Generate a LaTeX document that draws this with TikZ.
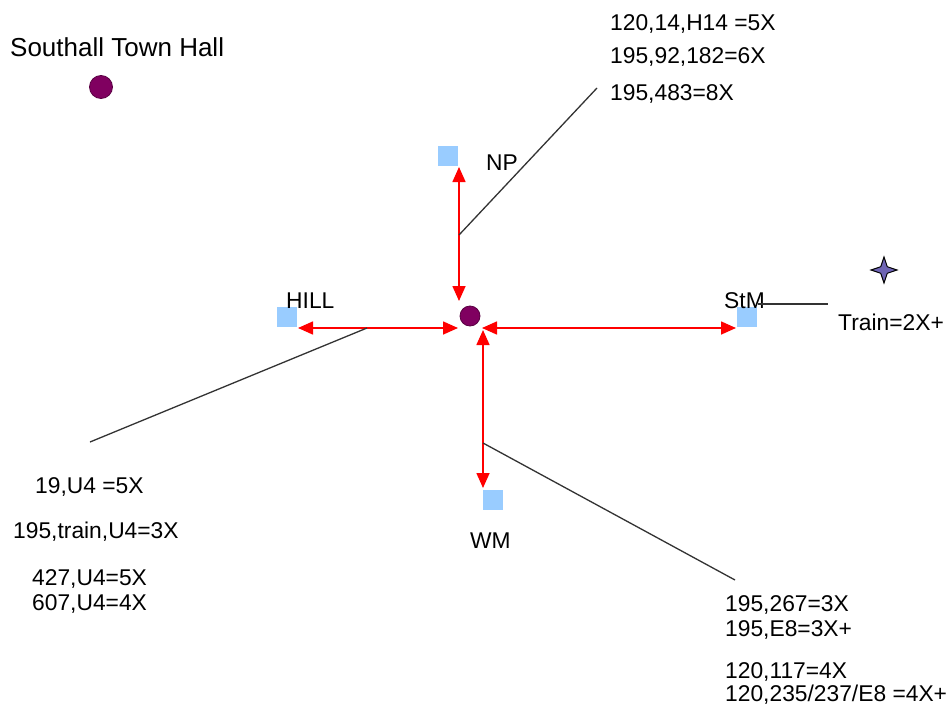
\documentclass[tikz,border=0pt]{standalone}
\usepackage{fontspec}
\setmainfont{Liberation Sans}
\usetikzlibrary{arrows.meta,shapes.geometric}
\definecolor{sq}{RGB}{153,204,255}
\definecolor{pur}{RGB}{128,0,96}
\definecolor{arr}{RGB}{255,0,0}
\definecolor{starc}{RGB}{110,100,180}
\tikzset{
  sqbox/.style={rectangle,fill=sq,minimum size=20pt,inner sep=0pt},
  dot/.style={circle,fill=pur,draw=pur!70!black,line width=0.8pt,inner sep=0pt},
  lab/.style={font=\fontsize{22.8}{26}\selectfont,inner sep=0pt,anchor=base west},
  redarr/.style={draw=arr,line width=1.6pt,{Triangle[length=15pt,width=13pt]}-{Triangle[length=15pt,width=13pt]}},
  lead/.style={draw=black!80,line width=1.3pt}
}
\begin{document}
\begin{tikzpicture}[x=1pt,y=-1pt]
\useasboundingbox[fill=white] (0,0) rectangle (947,704);
% Southall town hall
\node[lab,font=\fontsize{26}{30}\selectfont] (sth) at (10,56) {Southall Town Hall};
\node[dot,minimum size=23pt] (sthd) at (101,87) {};
% center
\node[dot,minimum size=20pt] (c) at (470,316) {};
% squares
\node[sqbox] (np) at (448,156) {};
\node[sqbox] (hill) at (287,317) {};
\node[sqbox] (stm) at (747,317) {};
\node[sqbox] (wm) at (493,500) {};
% labels
\node[lab] (npl) at (486,170) {NP};
\node[lab] (hilll) at (286,308) {HILL};
\node[lab] (stml) at (724,308) {StM};
\node[lab] (wml) at (470,548) {WM};
% arrow endpoints
\coordinate (npT) at (459,167);
\coordinate (npB) at (459,301);
\coordinate (hL) at (298,328);
\coordinate (hR) at (458,328);
\coordinate (sL) at (482,328);
\coordinate (sR) at (736,328);
\coordinate (wT) at (483,330);
\coordinate (wB) at (483,488);
\draw[redarr] (npT) -- (npB);
\draw[redarr] (hL) -- (hR);
\draw[redarr] (sL) -- (sR);
\draw[redarr] (wT) -- (wB);
% leader lines
\coordinate (npm) at (459,235);
\coordinate (npe) at (597,88);
\draw[lead] (npm) -- (npe);
\coordinate (hm) at (367,328);
\coordinate (he) at (90,442);
\draw[lead] (hm) -- (he);
\coordinate (sm) at (758,304);
\coordinate (se) at (828,304);
\draw[lead] (sm) -- (se);
\coordinate (wmm) at (483,443);
\coordinate (wme) at (735,580);
\draw[lead] (wmm) -- (wme);
% star
\node[star,star points=4,star point ratio=2.8,fill=starc,draw=black,line width=1pt,minimum size=26pt,inner sep=0pt] (st) at (884,270) {};
% texts
\node[lab] (t1) at (610,30) {120,14,H14 =5X};
\node[lab] (t2) at (610,63) {195,92,182=6X};
\node[lab] (t3) at (610,100) {195,483=8X};
\node[lab] (tr) at (838,330) {Train=2X+};
\node[lab] (l1) at (35,493) {19,U4 =5X};
\node[lab] (l2) at (13,538) {195,train,U4=3X};
\node[lab] (l3) at (32,585) {427,U4=5X};
\node[lab] (l4) at (32,610) {607,U4=4X};
\node[lab] (r1) at (725,611) {195,267=3X};
\node[lab] (r2) at (725,636) {195,E8=3X+};
\node[lab] (r3) at (725,678) {120,117=4X};
\node[lab] (r4) at (725,701) {120,235/237/E8 =4X+};
\end{tikzpicture}
\end{document}
